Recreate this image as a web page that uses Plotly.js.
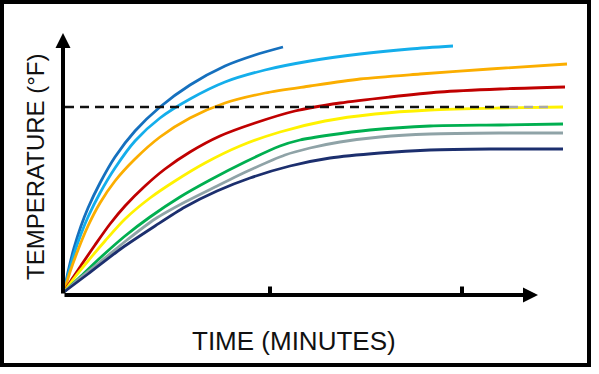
<!DOCTYPE html>
<html>
<head>
<meta charset="utf-8">
<script src="https://cdn.plot.ly/plotly-3.0.1.min.js"></script>
<style>
  html, body { margin: 0; padding: 0; background: #fff; }
  #wrap { position: relative; width: 599px; height: 374px; }
  #chart { position: absolute; left: 0; top: 0; width: 599px; height: 374px; }
  #frame { position: absolute; left: 0; top: 0; width: 583px; height: 359px; border: 4px solid #000; pointer-events: none; }
</style>
</head>
<body>
<div id="wrap"><div id="chart"></div><div id="frame"></div></div>
<script>
// ---- data (time in arbitrary minutes, temperature in arbitrary °F units) ----
const darkBlueX  = [0.1, 0.5, 1.1, 1.8, 2.5, 3.7, 5.2, 7.2, 9.7, 12.7, 16.2, 19.2, 22.0];
const darkBlueY  = [3, 23, 47, 69, 87, 112, 138, 164, 188, 210, 229, 240, 248];

const lightBlueX = [0.1, 0.5, 1.1, 1.8, 2.5, 3.7, 5.2, 7.2, 9.7, 12.7, 16.2, 20.2, 24.7, 29.7, 34.7, 39.0];
const lightBlueY = [3, 20, 41, 61, 78, 102, 127, 154, 177, 196, 213, 225, 234, 241, 246, 249];

const orangeX = [0.1, 0.7, 1.5, 2.5, 3.7, 5.2, 7.2, 9.7, 12.7, 16.2, 20.2, 24.7, 29.7, 35.7, 42.7, 50.4];
const orangeY = [3, 23, 45, 69, 92, 114, 136, 158, 177, 192, 202, 209, 216, 221, 226, 231];

const redX = [0.1, 0.9, 1.9, 3.2, 4.7, 6.2, 8.2, 10.2, 12.7, 15.7, 19.2, 23.2, 27.7, 32.7, 37.7, 43.7, 50.2];
const redY = [3, 16, 31, 50, 71, 89, 109, 126, 143, 159, 172, 184, 192, 198, 203, 206, 208];

const yellowX = [0.1, 1.2, 2.5, 4.2, 6.2, 8.7, 11.2, 14.2, 17.7, 21.7, 26.2, 31.2, 36.7, 43.7, 50.0];
const yellowY = [3, 18, 34, 54, 76, 97, 114, 132, 149, 163, 174, 181, 185, 187, 188];

const greenX = [0.1, 1.7, 3.7, 6.2, 8.7, 11.7, 14.7, 18.2, 21.7, 23.7, 26.7, 30.7, 36.7, 43.7, 50.0];
const greenY = [3, 18, 37, 59, 78, 98, 115, 133, 149, 155, 160, 165, 169, 170, 171];

const grayX = [0.1, 1.7, 3.7, 6.4, 9.2, 12.2, 15.2, 18.7, 22.2, 24.7, 27.7, 31.7, 36.7, 43.7, 50.0];
const grayY = [3, 17, 33, 55, 76, 93, 108, 125, 140, 147, 153, 158, 161, 162, 162];

const navyX = [0.1, 2.5, 5.9, 9.2, 12.2, 15.4, 18.7, 22.7, 26.7, 31.7, 36.7, 42.7, 50.0];
const navyY = [3, 21, 47, 69, 88, 104, 117, 129, 137, 142, 145, 146, 146];

const targetTemp = 188;               // dashed reference level
const targetX    = [0.2, 44.6, 49.0]; // start, colour change, end

const tickVals  = [20.7, 39.9];       // the two x-axis tick marks
const axisMax   = { x: 47.5, y: 262 };

const xTitle = 'TIME (MINUTES)';
const yTitle = 'TEMPERATURE (°F)';

// ---- styles ----
const series = [
  { x: darkBlueX,  y: darkBlueY,  color: '#1570BE' },
  { x: lightBlueX, y: lightBlueY, color: '#14AEEB' },
  { x: orangeX,    y: orangeY,    color: '#FBAE00' },
  { x: redX,       y: redY,       color: '#C00000' },
  { x: yellowX,    y: yellowY,    color: '#FFF200' },
  { x: greenX,     y: greenY,     color: '#00AF50' },
  { x: grayX,      y: grayY,      color: '#8FA3A7' },
  { x: navyX,      y: navyY,      color: '#1C2F6E' }
];

const traces = series.map(s => ({
  type: 'scatter', mode: 'lines', x: s.x, y: s.y,
  line: { color: s.color, width: 2.8, shape: 'spline', smoothing: 0.8 },
  hoverinfo: 'skip', showlegend: false
}));

traces.push({
  type: 'scatter', mode: 'lines',
  x: [targetX[0], targetX[1]], y: [targetTemp, targetTemp],
  line: { color: '#111', width: 2.5, dash: '9px,6px' },
  hoverinfo: 'skip', showlegend: false
});
traces.push({
  type: 'scatter', mode: 'lines',
  x: [targetX[1], targetX[2]], y: [targetTemp, targetTemp],
  line: { color: '#a8a8a8', width: 2.5, dash: '9px,6px' },
  hoverinfo: 'skip', showlegend: false
});

const shapes = tickVals.map(tv => ({
  type: 'line', xref: 'x', yref: 'y',
  x0: tv, x1: tv, ysizemode: 'pixel', yanchor: 0, y0: -8.5, y1: 8.5,
  line: { color: '#000', width: 4 }
}));

const font = { family: '"Liberation Sans", Arial, sans-serif', color: '#111' };

const annotations = [
  // x axis with arrow
  { xref: 'x', yref: 'y', axref: 'x', ayref: 'y', x: axisMax.x, y: 0, ax: 0, ay: 0,
    text: '', showarrow: true, arrowhead: 2, arrowsize: 0.75, arrowwidth: 4, arrowcolor: '#000' },
  // y axis with arrow
  { xref: 'x', yref: 'y', axref: 'x', ayref: 'y', x: 0, y: axisMax.y, ax: 0, ay: 0,
    text: '', showarrow: true, arrowhead: 2, arrowsize: 0.75, arrowwidth: 4, arrowcolor: '#000' },
  // titles
  { xref: 'paper', yref: 'paper', x: 0.4539, y: -0.1736, xanchor: 'center', yanchor: 'middle',
    text: xTitle, showarrow: false, font: Object.assign({ size: 26 }, font) },
  { xref: 'paper', yref: 'paper', x: -0.0549, y: 0.483, xanchor: 'center', yanchor: 'middle', textangle: -90,
    text: yTitle, showarrow: false, font: Object.assign({ size: 24 }, font) }
];

const axisCommon = { showgrid: false, zeroline: false, showline: false, showticklabels: false, ticks: '', fixedrange: true };

const layout = {
  width: 599, height: 374,
  margin: { l: 63, r: 26, t: 30, b: 79, pad: 0 },
  paper_bgcolor: '#fff', plot_bgcolor: '#fff',
  xaxis: Object.assign({ range: [0, 51] }, axisCommon),
  yaxis: Object.assign({ range: [0, 265] }, axisCommon),
  shapes: shapes,
  annotations: annotations,
  showlegend: false
};

Plotly.newPlot('chart', traces, layout, { staticPlot: true, displayModeBar: false });
</script>
</body>
</html>
